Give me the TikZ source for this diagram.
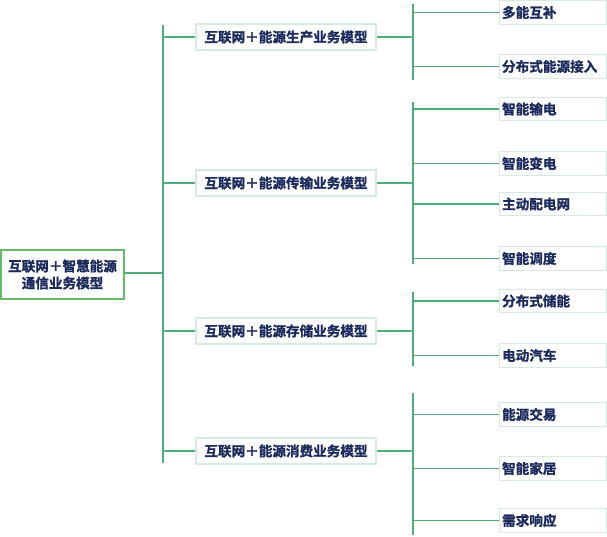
\documentclass[tikz,border=0pt]{standalone}
\usepackage{fontspec}
\setmainfont{Noto Sans CJK SC}[BoldFont={Noto Sans CJK SC Bold},BoldFeatures={FakeBold=1.5}]
\definecolor{conn}{HTML}{4FAE78}
\definecolor{rootb}{HTML}{66BB6A}
\definecolor{lightb}{HTML}{D3EBE1}
\definecolor{navy}{HTML}{1C2B5E}
\begin{document}
\begin{tikzpicture}[x=1pt,y=-1pt,
  line/.style={conn,line width=1.5pt},
  rootbox/.style={draw=rootb,line width=1.5pt,fill=white,minimum width=123pt,minimum height=49pt,inner sep=0pt,align=center,font=\bfseries\fontsize{13.6}{17}\selectfont,text=navy},
  midbox/.style={draw=lightb,line width=1.2pt,fill=white,minimum width=180pt,minimum height=26pt,inner sep=0pt,font=\bfseries\fontsize{13.6}{16}\selectfont,text=navy},
  leafbox/.style={draw=lightb,line width=1.2pt,fill=white,minimum width=107pt,minimum height=23.5pt,inner sep=0pt,text width=102pt,align=left,font=\bfseries\fontsize{13.6}{16}\selectfont,text=navy}
]
\useasboundingbox (0,0) rectangle (607,536);
% root
\node[rootbox] (root) at (62.5,274.5) {互联网＋智慧能源\\通信业务模型};
\coordinate (tj) at (163,273);
\coordinate (ttop) at (163,25);
\coordinate (tbot) at (163,463);
\draw[line] (root.east |- tj) -- (tj);
\draw[line] (ttop) -- (tbot);
% level 2
\node[midbox] (m1) at (286,37) {互联网＋能源生产业务模型};
\node[midbox] (m2) at (286,183) {互联网＋能源传输业务模型};
\node[midbox] (m3) at (286,331) {互联网＋能源存储业务模型};
\node[midbox] (m4) at (286,451) {互联网＋能源消费业务模型};
\foreach \m in {m1,m2,m3,m4}{
  \draw[line] (\m.west -| ttop) -- (\m.west);
}
% group verticals
\coordinate (g1t) at (413,4);   \coordinate (g1b) at (413,80);
\coordinate (g2t) at (413,102); \coordinate (g2b) at (413,264);
\coordinate (g3t) at (413,292); \coordinate (g3b) at (413,366);
\coordinate (g4t) at (413,393); \coordinate (g4b) at (413,535);
\draw[line] (g1t) -- (g1b);
\draw[line] (g2t) -- (g2b);
\draw[line] (g3t) -- (g3b);
\draw[line] (g4t) -- (g4b);
\draw[line] (m1.east) -- (m1.east -| g1t);
\draw[line] (m2.east) -- (m2.east -| g2t);
\draw[line] (m3.east) -- (m3.east -| g3t);
\draw[line] (m4.east) -- (m4.east -| g4t);
% leaves
\node[leafbox,anchor=west] (l1) at (499,12.5) {多能互补};
\node[leafbox,anchor=west] (l2) at (499,66.5) {分布式能源接入};
\node[leafbox,anchor=west] (l3) at (499,109) {智能输电};
\node[leafbox,anchor=west] (l4) at (499,163.5) {智能变电};
\node[leafbox,anchor=west] (l5) at (499,204) {主动配电网};
\node[leafbox,anchor=west] (l6) at (499,258.5) {智能调度};
\node[leafbox,anchor=west] (l7) at (499,301) {分布式储能};
\node[leafbox,anchor=west] (l8) at (499,355.5) {电动汽车};
\node[leafbox,anchor=west] (l9) at (499,414.5) {能源交易};
\node[leafbox,anchor=west] (l10) at (499,468.5) {智能家居};
\node[leafbox,anchor=west] (l11) at (499,520.5) {需求响应};
\foreach \l in {l1,l2,l3,l4,l5,l6,l7,l8,l9,l10,l11}{
  \draw[line] (\l.west -| g1t) -- (\l.west);
}
\end{tikzpicture}
\end{document}
